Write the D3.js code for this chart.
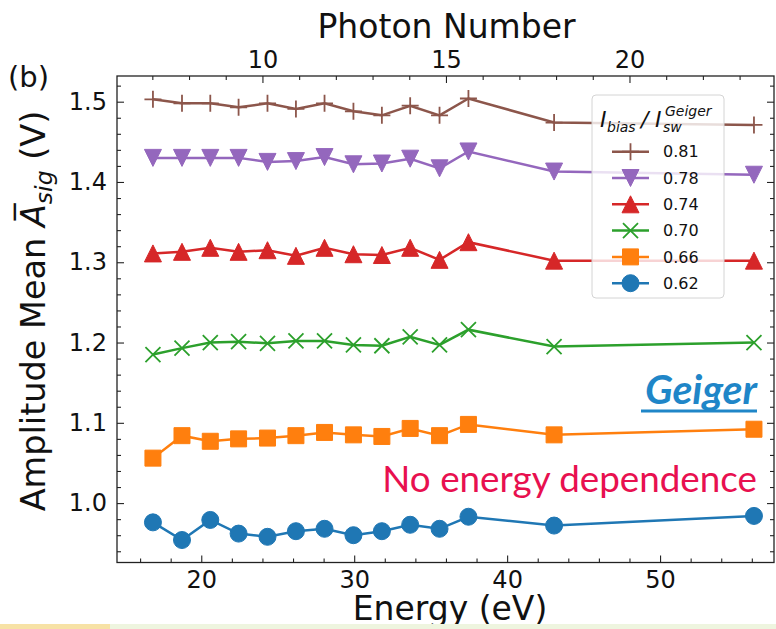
<!DOCTYPE html>
<html>
<head>
<meta charset="utf-8">
<script src="https://cdn.jsdelivr.net/npm/d3@7"></script>
<style>
  body { margin: 0; background: #fff; }
  svg { display: block; }
</style>
</head>
<body>
<svg id="chart" width="776" height="629"></svg>
<script>
// energies (eV) of the measurement points
var energy = [16.84, 18.74, 20.59, 22.44, 24.33, 26.19, 28.06, 29.95, 31.81, 33.66, 35.58, 37.47, 43.07, 56.14];

// amplitude mean (V) per bias ratio
var s081 = [1.503, 1.498, 1.498, 1.493, 1.498, 1.491, 1.498, 1.488, 1.483, 1.495, 1.483, 1.504, 1.474, 1.471];
var s078 = [1.430, 1.430, 1.430, 1.430, 1.425, 1.426, 1.431, 1.422, 1.423, 1.429, 1.417, 1.438, 1.413, 1.409];
var s074 = [1.311, 1.313, 1.318, 1.313, 1.315, 1.308, 1.318, 1.310, 1.309, 1.318, 1.303, 1.325, 1.302, 1.302];
var s070 = [1.185, 1.193, 1.200, 1.201, 1.199, 1.202, 1.202, 1.197, 1.196, 1.207, 1.197, 1.216, 1.195, 1.200];
var s066 = [1.056, 1.084, 1.077, 1.080, 1.081, 1.084, 1.088, 1.085, 1.083, 1.093, 1.084, 1.098, 1.085, 1.092];
var s062 = [0.976, 0.954, 0.979, 0.962, 0.958, 0.965, 0.968, 0.960, 0.965, 0.973, 0.968, 0.983, 0.972, 0.984];

var labels = ['0.81', '0.78', '0.74', '0.70', '0.66', '0.62'];
var markers = ['plus', 'down', 'up', 'x', 'square', 'circle'];
var colors = ['#8c564b', '#9467bd', '#d62728', '#2ca02c', '#ff7f0e', '#1f77b4'];
var allSeries = [s081, s078, s074, s070, s066, s062];

var xTicks = [20, 30, 40, 50];
var yTicks = [1.0, 1.1, 1.2, 1.3, 1.4, 1.5];
var photonTicks = [10, 15, 20];
var evPerPhoton = 2.4;

// plot box (named so they don't clash with window.top)
var pLeft = 117, pRight = 774, pTop = 76, pBottom = 562.5;
var svg = d3.select('#chart');

var x = d3.scaleLinear().domain([14.49, 57.45]).range([pLeft, pRight]);
var y = d3.scaleLinear().domain([0.926, 1.532]).range([pBottom, pTop]);
var xTop = d3.scaleLinear().domain([14.49 / evPerPhoton, 57.45 / evPerPhoton]).range([pLeft, pRight]);

var font = "'DejaVu Sans', sans-serif";

function range(a, b, step) {
  var out = [];
  for (var v = a; v <= b + 1e-9; v += step) out.push(+v.toFixed(4));
  return out;
}
function notIn(list) {
  return function (v) { return !list.some(function (m) { return Math.abs(m - v) < 1e-6; }); };
}

function styleAxis(g) {
  g.select('.domain').remove();
  g.selectAll('.tick line').attr('stroke', '#222').attr('stroke-width', 1.1);
  g.selectAll('.tick text').attr('font-family', font).attr('font-size', 24).attr('fill', '#111');
}

// bottom axis
svg.append('g').attr('transform', 'translate(0,' + pBottom + ')')
  .call(d3.axisBottom(x).tickValues(xTicks).tickSize(-7).tickPadding(8).tickFormat(d3.format('d')))
  .call(styleAxis);
svg.append('g').attr('transform', 'translate(0,' + pBottom + ')')
  .call(d3.axisBottom(x).tickValues(range(16, 56, 2).filter(notIn(xTicks))).tickSize(-4).tickFormat(''))
  .call(styleAxis);

// left axis
svg.append('g').attr('transform', 'translate(' + pLeft + ',0)')
  .call(d3.axisLeft(y).tickValues(yTicks).tickSize(-7).tickPadding(10).tickFormat(d3.format('.1f')))
  .call(styleAxis);
svg.append('g').attr('transform', 'translate(' + pLeft + ',0)')
  .call(d3.axisLeft(y).tickValues(range(0.94, 1.52, 0.02).filter(notIn(yTicks))).tickSize(-4).tickFormat(''))
  .call(styleAxis);

// right axis (ticks only)
svg.append('g').attr('transform', 'translate(' + pRight + ',0)')
  .call(d3.axisRight(y).tickValues(yTicks).tickSize(-7).tickFormat(''))
  .call(styleAxis);
svg.append('g').attr('transform', 'translate(' + pRight + ',0)')
  .call(d3.axisRight(y).tickValues(range(0.94, 1.52, 0.02).filter(notIn(yTicks))).tickSize(-4).tickFormat(''))
  .call(styleAxis);

// top axis, photon number
svg.append('g').attr('transform', 'translate(0,' + pTop + ')')
  .call(d3.axisTop(xTop).tickValues(photonTicks).tickSize(-7).tickPadding(8).tickFormat(d3.format('d')))
  .call(styleAxis);
svg.append('g').attr('transform', 'translate(0,' + pTop + ')')
  .call(d3.axisTop(xTop).tickValues(range(7, 23, 1).filter(notIn(photonTicks))).tickSize(-4).tickFormat(''))
  .call(styleAxis);

// spines
svg.append('rect')
  .attr('x', pLeft).attr('y', pTop)
  .attr('width', pRight - pLeft).attr('height', pBottom - pTop)
  .attr('fill', 'none').attr('stroke', '#222').attr('stroke-width', 1.3);

function markerPath(type) {
  var s = 8.5;
  if (type == 'circle') return d3.symbol(d3.symbolCircle, Math.PI * s * s)();
  if (type == 'square') return 'M-8,-8H8V8H-8Z';
  if (type == 'up') return 'M0,-' + s + 'L' + s + ',' + s + 'L-' + s + ',' + s + 'Z';
  if (type == 'down') return 'M0,' + s + 'L' + s + ',-' + s + 'L-' + s + ',-' + s + 'Z';
  if (type == 'plus') return 'M-8.5,0H8.5M0,-8.5V8.5';
  if (type == 'x') return 'M-7.5,-7.5L7.5,7.5M-7.5,7.5L7.5,-7.5';
}
function drawMarker(g, type, color) {
  var stroked = (type == 'plus' || type == 'x');
  g.append('path')
    .attr('d', markerPath(type))
    .attr('fill', stroked ? 'none' : color)
    .attr('stroke', color)
    .attr('stroke-width', stroked ? 1.8 : 1);
}

var line = d3.line()
  .x(function (d) { return x(d[0]); })
  .y(function (d) { return y(d[1]); });

var plot = svg.append('g');
allSeries.slice().reverse().forEach(function (vals, ri) {
  var i = allSeries.length - 1 - ri;
  var pts = energy.map(function (e, k) { return [e, vals[k]]; });
  plot.append('path')
    .attr('d', line(pts))
    .attr('fill', 'none')
    .attr('stroke', colors[i])
    .attr('stroke-width', 2.5);
  pts.forEach(function (p) {
    var m = plot.append('g').attr('transform', 'translate(' + x(p[0]) + ',' + y(p[1]) + ')');
    drawMarker(m, markers[i], colors[i]);
  });
});

// legend
var leg = svg.append('g');
leg.append('rect')
  .attr('x', 592).attr('y', 95).attr('width', 132).attr('height', 203).attr('rx', 4)
  .attr('fill', '#fff').attr('fill-opacity', 0.8)
  .attr('stroke', '#d4d4d4').attr('stroke-width', 1);

var title = leg.append('text').attr('font-family', font).attr('font-style', 'italic').attr('fill', '#111');
title.append('tspan').attr('x', 600).attr('y', 127).attr('font-size', 22).text('I');
title.append('tspan').attr('x', 607).attr('y', 132).attr('font-size', 14).text('bias');
title.append('tspan').attr('x', 641).attr('y', 127).attr('font-size', 22).text('/');
title.append('tspan').attr('x', 655).attr('y', 127).attr('font-size', 22).text('I');
title.append('tspan').attr('x', 665).attr('y', 116).attr('font-size', 14).text('Geiger');
title.append('tspan').attr('x', 663).attr('y', 132).attr('font-size', 14).text('sw');

labels.forEach(function (lab, i) {
  var cy = 151.7 + i * 26.3;
  leg.append('line')
    .attr('x1', 612).attr('x2', 649).attr('y1', cy).attr('y2', cy)
    .attr('stroke', colors[i]).attr('stroke-width', 2.5);
  var m = leg.append('g').attr('transform', 'translate(630.5,' + cy + ')');
  drawMarker(m, markers[i], colors[i]);
  leg.append('text')
    .attr('x', 663).attr('y', cy).attr('dy', '0.36em')
    .attr('font-family', font).attr('font-size', 16).attr('fill', '#111')
    .text(lab);
});

// axis titles
svg.append('text')
  .attr('x', (pLeft + pRight) / 2 + 1).attr('y', 38)
  .attr('text-anchor', 'middle')
  .attr('font-family', font).attr('font-size', 33).attr('fill', '#111')
  .text('Photon Number');

svg.append('text')
  .attr('x', 450).attr('y', 620)
  .attr('text-anchor', 'middle')
  .attr('font-family', font).attr('font-size', 33).attr('fill', '#111')
  .text('Energy (eV)');

var yl = svg.append('text')
  .attr('transform', 'translate(45,311) rotate(-90)')
  .attr('text-anchor', 'middle')
  .attr('font-family', font).attr('font-size', 33.5).attr('fill', '#111');
yl.append('tspan').text('Amplitude Mean ');
yl.append('tspan').attr('font-style', 'italic').text('A\u0305');
yl.append('tspan').attr('font-style', 'italic').attr('font-size', 23.5).attr('dy', 7).text('sig');
yl.append('tspan').attr('dy', -7).text(' (V)');

svg.append('text')
  .attr('x', 8).attr('y', 87)
  .attr('font-family', font).attr('font-size', 29).attr('fill', '#111')
  .text('(b)');

// annotations
svg.append('text')
  .attr('x', 757).attr('y', 404)
  .attr('text-anchor', 'end')
  .attr('font-family', 'Lato, sans-serif').attr('font-weight', 'bold').attr('font-style', 'italic')
  .attr('font-size', 41).attr('fill', '#1f86c8')
  .text('Geiger');
svg.append('rect')
  .attr('x', 641).attr('y', 409.5).attr('width', 116).attr('height', 3)
  .attr('fill', '#1f86c8');

svg.append('text')
  .attr('x', 757).attr('y', 492)
  .attr('text-anchor', 'end')
  .attr('font-family', 'Lato, sans-serif')
  .attr('font-size', 36.8).attr('fill', '#e8104f')
  .text('No energy dependence');

// slide strip at the bottom
svg.append('rect').attr('x', 0).attr('y', 624).attr('width', 110).attr('height', 5).attr('fill', '#f7e2a6');
svg.append('rect').attr('x', 110).attr('y', 624).attr('width', 666).attr('height', 5).attr('fill', '#eef5df');
</script>
</body>
</html>
